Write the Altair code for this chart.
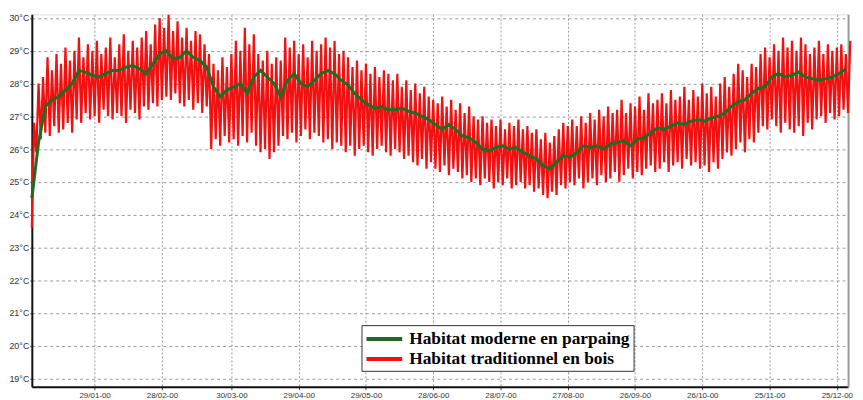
import altair as alt
import pandas as pd

GREEN_NAME = "Habitat moderne en parpaing"
RED_NAME = "Habitat traditionnel en bois"

# Green series: one reading every 3 days (day 0 = 1 Jan 2000)
green_temp = [
    24.5, 26.2, 27.3, 27.5, 27.6, 27.8, 28.0, 28.4, 28.35, 28.25,
    28.2, 28.3, 28.4, 28.4, 28.5, 28.55, 28.45, 28.3, 28.6, 28.9,
    29.0, 28.75, 28.8, 29.0, 28.8, 28.7, 28.5, 27.9, 27.6, 27.8,
    27.9, 28.0, 27.7, 28.2, 28.4, 28.2, 28.0, 27.6, 28.1, 28.3,
    28.0, 27.9, 28.1, 28.3, 28.4, 28.3, 28.1, 27.95, 27.7, 27.5,
    27.35, 27.25, 27.3, 27.2, 27.2, 27.25, 27.15, 27.1, 27.0, 26.9,
    26.75, 26.6, 26.75, 26.6, 26.4, 26.35, 26.2, 26.0, 25.95, 26.05,
    26.1, 26.0, 26.05, 25.9, 25.8, 25.7, 25.5, 25.4, 25.6, 25.8,
    25.75, 25.9, 26.1, 26.05, 26.1, 26.0, 26.15, 26.2, 26.25, 26.1,
    26.3, 26.35, 26.5, 26.65, 26.6, 26.7, 26.8, 26.75, 26.85, 26.9,
    26.85, 26.95, 27.0, 27.1, 27.3, 27.45, 27.5, 27.7, 27.85, 27.9,
    28.2, 28.3, 28.2, 28.25, 28.35, 28.2, 28.15, 28.1, 28.15, 28.2,
    28.3, 28.45,
]

# Red series: lows on even days, highs on odd days
red_low = [
    23.6, 25.9, 26.3, 26.5, 26.4, 26.7, 26.5, 26.6, 26.8, 26.5,
    26.9, 26.8, 27.1, 26.9, 27.0, 26.8, 27.2, 27.0, 26.9, 27.1,
    27.0, 26.8, 27.2, 27.1, 26.9, 27.3, 27.2, 27.4, 27.3, 27.5,
    27.6, 27.5, 27.7, 27.4, 27.3, 27.5, 27.2, 27.4, 27.1, 27.3,
    26.0, 26.3, 26.1, 26.4, 26.2, 26.3, 26.1, 26.4, 26.2, 26.5,
    26.1, 25.9, 26.0, 25.7, 25.9, 26.1, 26.4, 26.3, 26.5, 26.2,
    26.4, 26.6, 26.3, 26.5, 26.4, 26.2, 26.3, 26.0, 26.2, 26.1,
    25.9, 26.1, 25.8, 26.0, 26.1, 25.9, 25.8, 26.0, 26.1, 25.9,
    25.8, 26.0, 25.9, 25.7, 25.8, 25.6, 25.5, 25.7, 25.4, 25.6,
    25.4, 25.3, 25.5, 25.2, 25.4, 25.3, 25.1, 25.2, 25.0, 25.1,
    24.9, 25.1, 25.0, 24.8, 25.0, 24.9, 25.1, 24.8, 24.9, 25.0,
    24.8, 24.9, 24.7, 24.8, 24.6, 24.5, 24.7, 24.6, 24.9, 24.8,
    25.0, 24.9, 25.1, 24.8, 25.0, 25.1, 24.9, 25.2, 25.0, 25.1,
    25.3, 25.0, 25.2, 25.4, 25.1, 25.3, 25.2, 25.4, 25.5, 25.3,
    25.4, 25.6, 25.3, 25.5, 25.6, 25.4, 25.7, 25.5, 25.6, 25.4,
    25.5, 25.3, 25.6, 25.4, 25.7, 25.9, 25.8, 26.0, 26.2, 25.9,
    26.3, 26.2, 26.5, 26.7, 26.6, 26.9, 26.7, 26.5, 26.8, 26.6,
    26.5, 26.7, 26.4, 26.8, 26.6, 26.9, 27.0, 26.8, 27.1, 26.9,
    27.0, 27.2, 27.1,
]
red_high = [
    26.8, 28.0, 28.2, 28.8, 28.4, 28.9, 28.6, 29.1, 28.7, 29.0,
    29.4, 28.8, 29.2, 29.0, 29.3, 28.9, 29.1, 29.4, 28.8, 29.2,
    29.5, 29.0, 29.3, 29.1, 29.4, 29.6, 29.2, 29.8, 30.0, 29.7,
    30.1, 29.6, 29.9, 29.4, 29.7, 29.3, 29.6, 29.5, 29.2, 28.9,
    28.6, 28.4, 28.8, 28.5, 28.9, 29.3, 29.0, 29.7, 29.2, 29.5,
    28.9, 28.7, 29.0, 28.6, 28.8, 28.7, 29.4, 29.1, 29.3, 28.9,
    29.2, 28.8, 29.3, 29.0, 29.2, 29.4, 29.1, 29.3, 28.9, 29.0,
    28.8, 28.5, 28.7, 28.4, 28.6, 28.3, 28.5, 28.2, 28.4, 28.3,
    28.1, 28.3, 27.9, 28.1, 27.8, 28.0, 27.7, 27.9, 27.6, 27.5,
    27.4, 27.6, 27.3, 27.5, 27.2, 27.4, 27.1, 27.3, 27.0, 26.9,
    27.0, 26.8, 26.9, 26.7, 26.9, 26.6, 26.8, 26.7, 26.9, 26.6,
    26.7, 26.5, 26.6, 26.3, 26.5, 26.2, 26.4, 26.6, 26.8, 26.7,
    26.9, 26.7, 27.0, 26.8, 27.1, 26.9, 27.2, 27.0, 27.3, 27.1,
    27.2, 27.5, 27.1, 27.4, 27.3, 27.6, 27.2, 27.7, 27.4, 27.5,
    27.7, 27.4, 27.8, 27.5, 27.6, 27.9, 27.5, 27.8, 27.6, 28.0,
    27.7, 27.9, 27.6, 28.0, 28.2, 27.9, 28.3, 28.6, 28.4, 28.2,
    28.6, 28.5, 28.9, 29.1, 28.8, 29.2, 29.0, 29.4, 29.1, 29.3,
    29.0, 29.4, 29.2, 28.9, 29.1, 29.3, 28.9, 29.2, 29.0, 29.1,
    29.2, 28.9, 29.3,
]

tick_days = [28, 58, 89, 119, 149, 179, 209, 239, 269, 299, 329, 359]
tick_labels = ["29/01-00", "28/02-00", "30/03-00", "29/04-00", "29/05-00", "28/06-00",
               "28/07-00", "27/08-00", "26/09-00", "26/10-00", "25/11-00", "25/12-00"]
y_ticks = [19, 20, 21, 22, 23, 24, 25, 26, 27, 28, 29, 30]

green_df = pd.DataFrame({
    "day": [3 * i for i in range(len(green_temp))],
    "temp": green_temp,
    "series": GREEN_NAME,
})
rows = []
for i, (lo, hi) in enumerate(zip(red_low, red_high)):
    rows.append({"day": 2 * i, "temp": lo, "series": RED_NAME})
    rows.append({"day": 2 * i + 1, "temp": hi, "series": RED_NAME})
red_df = pd.DataFrame(rows)

label_expr = "''"
for d, lab in reversed(list(zip(tick_days, tick_labels))):
    label_expr = f"datum.value == {d} ? '{lab}' : ({label_expr})"

x_scale = alt.Scale(domain=[0, 364], nice=False, zero=False)
y_scale = alt.Scale(domain=[18.75, 30.11], nice=False, zero=False)

x_axis = alt.Axis(values=tick_days, labelExpr=label_expr, title=None,
                  grid=True, gridDash=[2, 2], gridColor="#9a9a9a",
                  domainColor="#111", domainWidth=2, tickColor="#444", tickSize=3,
                  labelFont="Liberation Sans Narrow, Arial Narrow, Liberation Sans, sans-serif",
                  labelFontSize=8, labelColor="#333", labelPadding=2)
y_axis_left = alt.Axis(values=y_ticks, labelExpr="datum.value + '°C'", title=None,
                       grid=True, gridDash=[3, 3], gridColor="#9a9a9a",
                       domainColor="#111", domainWidth=2, tickColor="#444", tickSize=2,
                       labelFont="Liberation Sans, Arial, sans-serif",
                       labelFontSize=9, labelColor="#333", labelPadding=1)
y_axis_right = alt.Axis(orient="right", title=None, grid=False, labels=False, ticks=False,
                        domainColor="#999", domainWidth=2)

color_scale = alt.Scale(domain=[GREEN_NAME, RED_NAME], range=["#1f6b22", "#f21010"])
legend = alt.Legend(title=None, orient="none", legendX=332, legendY=313,
                    symbolType="M-1,0H3", symbolStrokeWidth=4, symbolSize=324,
                    labelFont="Liberation Serif", labelFontWeight="bold",
                    labelFontSize=17.5, labelColor="#000", labelLimit=400,
                    strokeColor="#333", fillColor="white", padding=3,
                    rowPadding=0, labelOffset=23)

red_layer = alt.Chart(red_df).mark_line(strokeWidth=2.2).encode(
    x=alt.X("day:Q", scale=x_scale, axis=x_axis),
    y=alt.Y("temp:Q", scale=y_scale, axis=y_axis_left),
    color=alt.Color("series:N", scale=color_scale, legend=legend),
)
green_layer = alt.Chart(green_df).mark_line(strokeWidth=3).encode(
    x=alt.X("day:Q", scale=x_scale, axis=x_axis),
    y=alt.Y("temp:Q", scale=y_scale, axis=y_axis_right),
    color=alt.Color("series:N", scale=color_scale, legend=legend),
)

chart = alt.layer(red_layer, green_layer).resolve_axis(y="independent").properties(
    width=822, height=375, padding=0
).configure_view(stroke=None).configure(background="white")

chart.save("out.html", embed_options={"renderer": "svg", "actions": False})
